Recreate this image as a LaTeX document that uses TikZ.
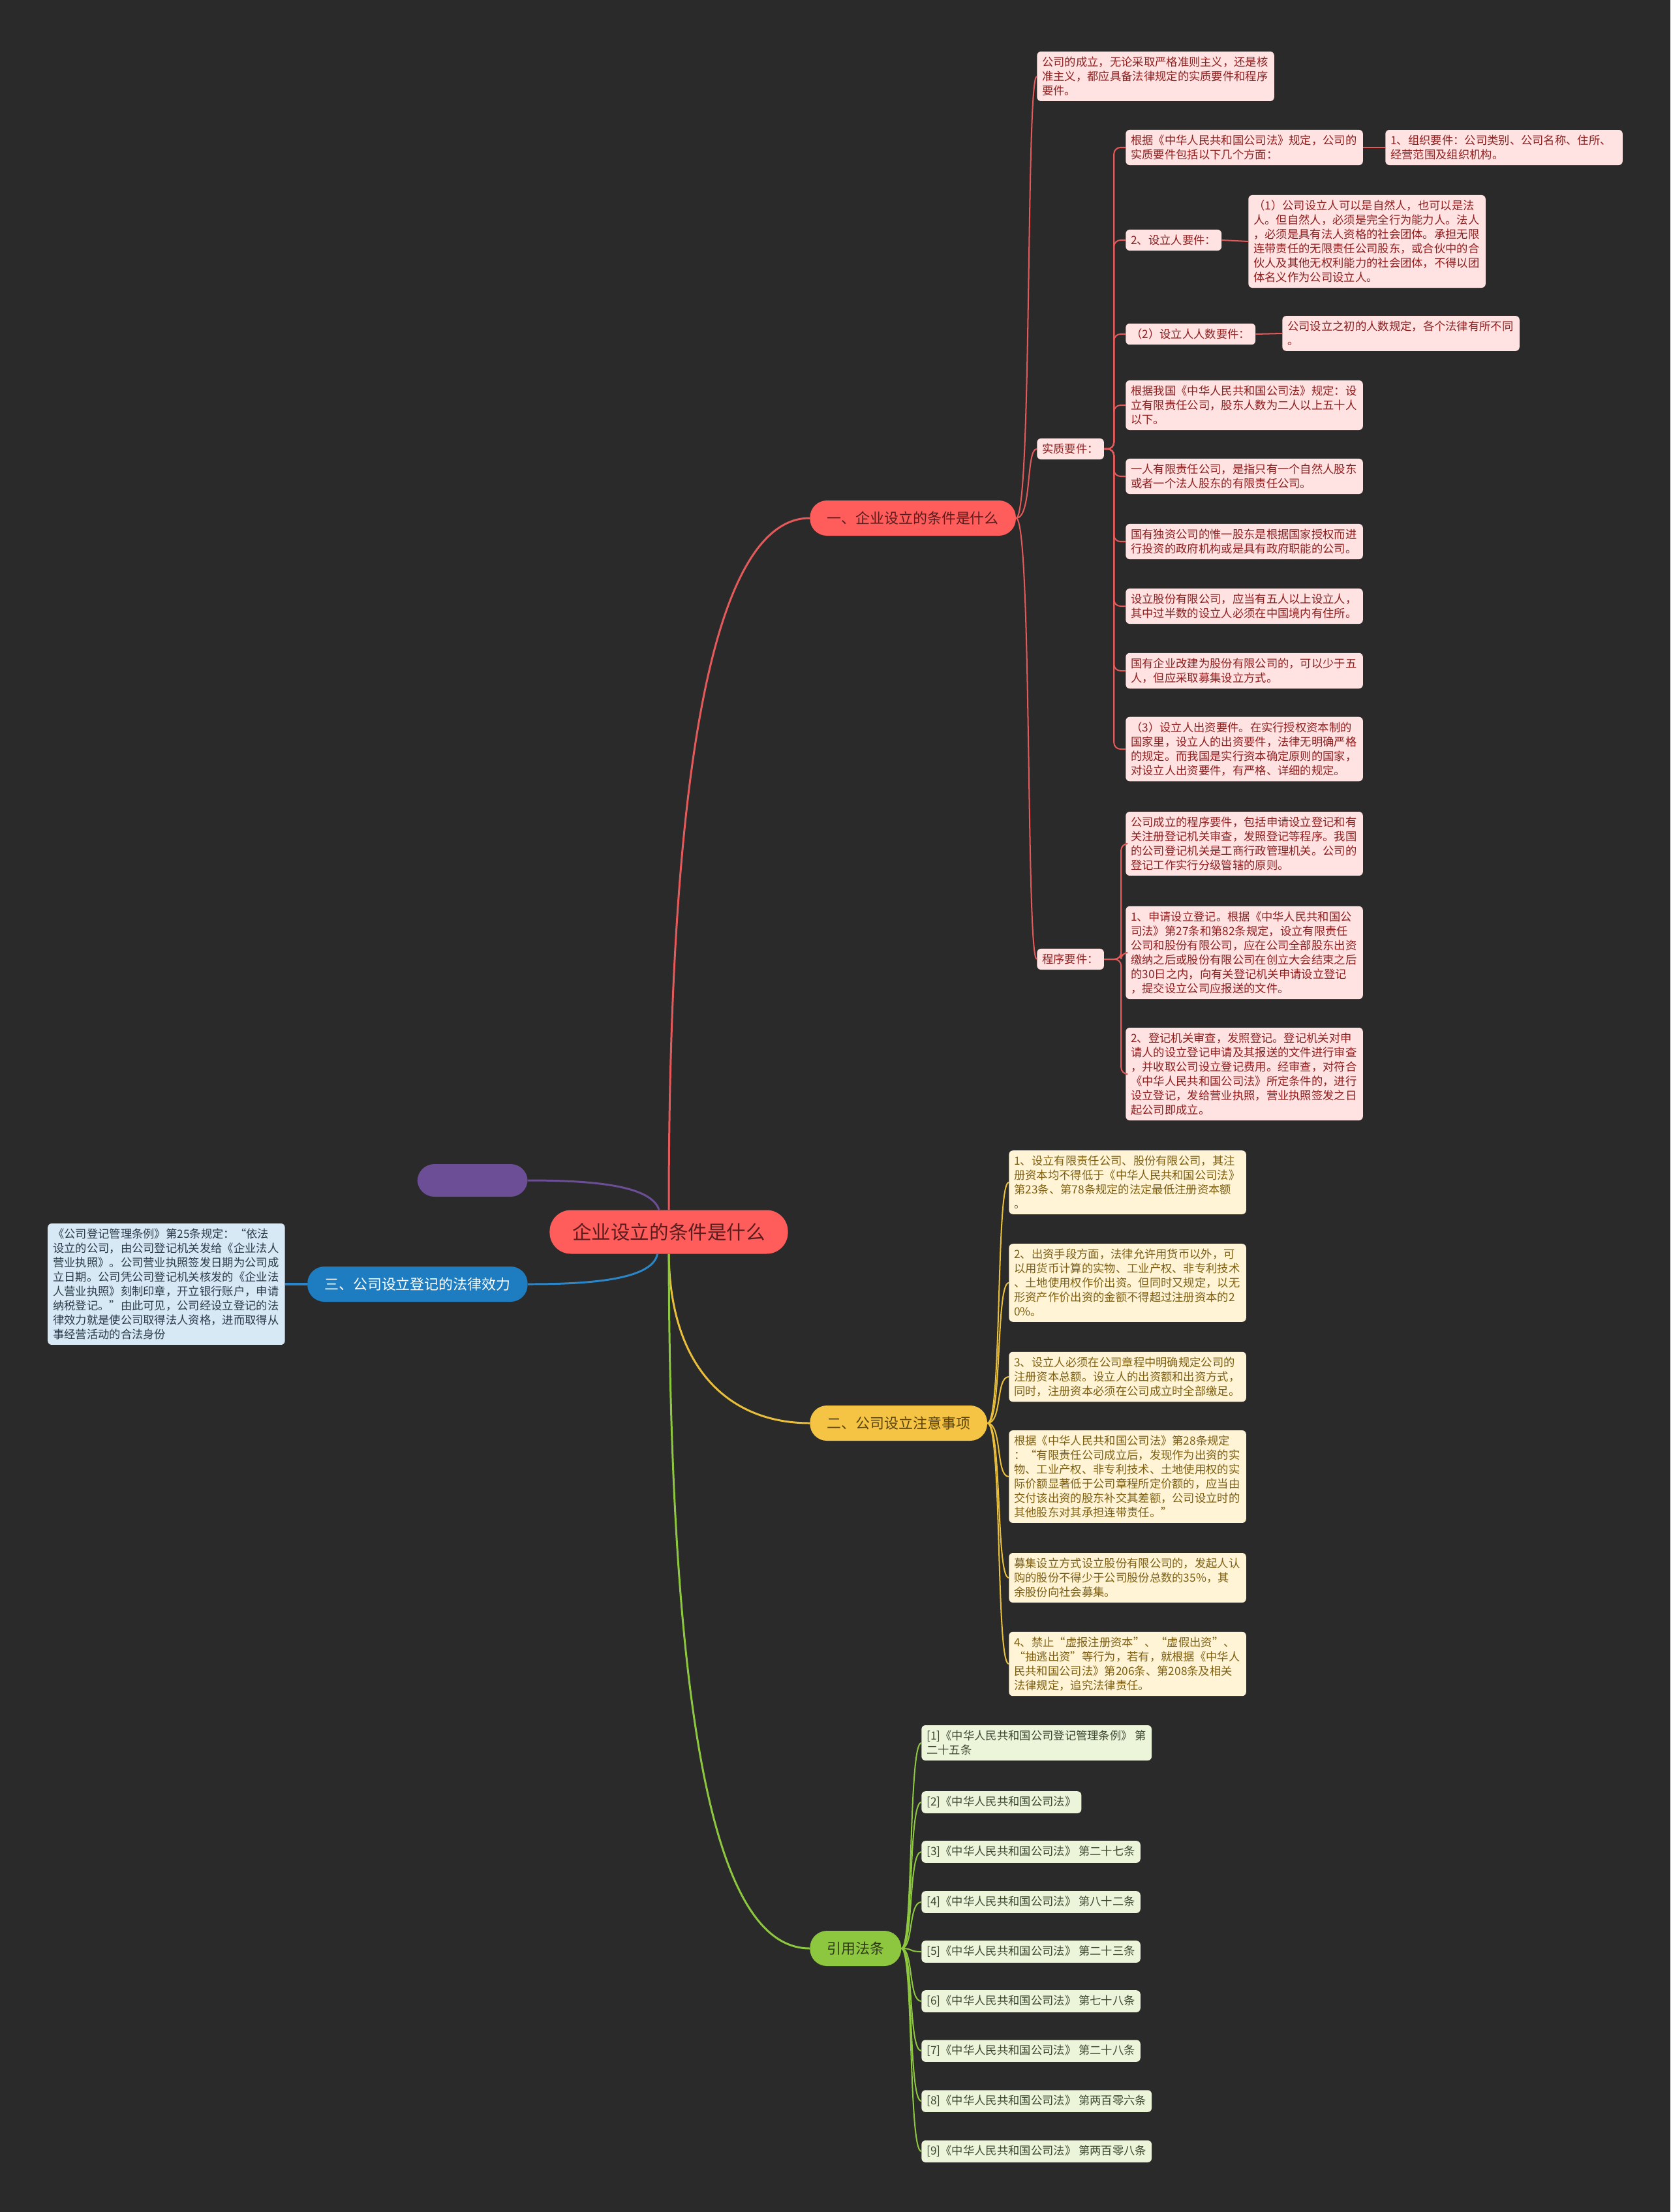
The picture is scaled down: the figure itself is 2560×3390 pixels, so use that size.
\documentclass[tikz,border=0pt]{standalone}
\usepackage{fontspec}
\setmainfont{Noto Sans CJK SC}
\definecolor{bg}{HTML}{2A2A2A}
\definecolor{rootred}{HTML}{FF5C5C}
\definecolor{rootink}{HTML}{5A1C1C}
\definecolor{redline}{HTML}{E45A5A}
\definecolor{pinkfill}{HTML}{FFE2E2}
\definecolor{pinkink}{HTML}{8E1F1F}
\definecolor{yelbranch}{HTML}{F6C445}
\definecolor{yelink}{HTML}{5A4510}
\definecolor{yelline}{HTML}{E9BE3A}
\definecolor{yelfill}{HTML}{FFF5D6}
\definecolor{yelleafink}{HTML}{7D5E12}
\definecolor{bluebranch}{HTML}{1E7CC0}
\definecolor{blueline}{HTML}{2A86C8}
\definecolor{bluefill}{HTML}{D8E9F6}
\definecolor{blueink}{HTML}{2B3A48}
\definecolor{purplebox}{HTML}{6B4E96}
\definecolor{grnbranch}{HTML}{8DC63F}
\definecolor{grnink}{HTML}{2E3A16}
\definecolor{grnfill}{HTML}{ECF5D9}
\definecolor{grnleafink}{HTML}{3A4630}
\begin{document}
\begin{tikzpicture}[x=0.02cm,y=-0.02cm,
  rootbox/.style={fill=rootred,text=rootink,rounded corners=0.65cm,
    inner xsep=0.7cm,minimum height=1.34cm,font=\fontsize{16.8}{20}\selectfont},
  topic/.style={rounded corners=0.52cm,inner xsep=0.52cm,minimum height=1.08cm,
    font=\fontsize{12.5}{15}\selectfont},
  leafbox/.style={anchor=west,rounded corners=0.12cm,inner xsep=0.16cm,
    inner ysep=0.16cm,align=left,font=\fontsize{9.85}{12.5}\selectfont},
  wideleaf/.style={leafbox,text width=6.95cm},
  pinkleaf/.style={fill=pinkfill,text=pinkink},
  yelleaf/.style={fill=yelfill,text=yelleafink},
  blueleaf/.style={fill=bluefill,text=blueink},
  grnleaf/.style={fill=grnfill,text=grnleafink},
  mainlink/.style={line width=1.7pt},
  sublink/.style={line width=1.15pt}]
  \useasboundingbox (0,0) rectangle (2560,3390);
  \fill[bg] (0,0) rectangle (2560,3390);

  % centre and first level
  \node[rootbox] (root) at (1025,1888) {企业设立的条件是什么};
  \node[topic,anchor=west,fill=rootred,text=rootink] (yi) at (1241,794)
    {一、企业设立的条件是什么};
  \node[topic,anchor=west,fill=yelbranch,text=yelink] (er) at (1241,2181)
    {二、公司设立注意事项};
  \node[topic,anchor=east,fill=bluebranch,text=white] (san) at (809,1968)
    {三、公司设立登记的法律效力};
  \node[topic,anchor=east,fill=purplebox,minimum width=3.38cm,minimum height=1cm]
    (blank) at (809,1809) {};
  \node[topic,anchor=west,fill=grnbranch,text=grnink] (yinyong) at (1241,2986)
    {引用法条};

  \draw[mainlink,redline] (root.north) .. controls (1025,1100) and (1110,794) .. (yi.west);
  \draw[mainlink,yelline] (root.south) .. controls (1027,2100) and (1120,2181) .. (er.west);
  \draw[mainlink,grnbranch] (root.south) .. controls (1027,2750) and (1120,2986) .. (yinyong.west);
  \draw[mainlink,purplebox] ([xshift=-0.3cm]root.north) .. controls (998,1815) and (900,1809) .. (blank.east);
  \draw[mainlink,blueline] ([xshift=-0.35cm]root.south) .. controls (1000,1962) and (900,1968) .. (san.east);

  % branch one
  \node[wideleaf,pinkleaf] (chengli) at (1589,117)
    {公司的成立，无论采取严格准则主义，还是核\\准主义，都应具备法律规定的实质要件和程序\\要件。};
  \node[leafbox,pinkleaf] (shizhi) at (1589,688) {实质要件：};
  \node[leafbox,pinkleaf] (chengxu) at (1589,1470) {程序要件：};
  \foreach \n/\y in {chengli/117,shizhi/688,chengxu/1470}
    \draw[sublink,redline] (yi.east) .. controls (1582,794) and (1572,\y) .. (\n.west);

  \node[wideleaf,pinkleaf] (fangmian) at (1725,226)
    {根据《中华人民共和国公司法》规定，公司的\\实质要件包括以下几个方面：};
  \node[wideleaf,pinkleaf] (zuzhi) at (2123,226)
    {1、组织要件：公司类别、公司名称、住所、\\经营范围及组织机构。};
  \node[leafbox,pinkleaf] (sheliren) at (1725,368) {2、设立人要件：};
  \node[wideleaf,pinkleaf] (sheliren1) at (1913,370)
    {（1）公司设立人可以是自然人，也可以是法\\人。但自然人，必须是完全行为能力人。法人\\，必须是具有法人资格的社会团体。承担无限\\连带责任的无限责任公司股东，或合伙中的合\\伙人及其他无权利能力的社会团体，不得以团\\体名义作为公司设立人。};
  \node[leafbox,pinkleaf] (renshu) at (1725,512) {（2）设立人人数要件：};
  \node[wideleaf,pinkleaf] (renshu1) at (1965,511)
    {公司设立之初的人数规定，各个法律有所不同\\。};
  \node[wideleaf,pinkleaf] (youxian) at (1725,621)
    {根据我国《中华人民共和国公司法》规定：设\\立有限责任公司，股东人数为二人以上五十人\\以下。};
  \node[wideleaf,pinkleaf] (yiren) at (1725,730)
    {一人有限责任公司，是指只有一个自然人股东\\或者一个法人股东的有限责任公司。};
  \node[wideleaf,pinkleaf] (duzi) at (1725,830)
    {国有独资公司的惟一股东是根据国家授权而进\\行投资的政府机构或是具有政府职能的公司。};
  \node[wideleaf,pinkleaf] (gufen) at (1725,929)
    {设立股份有限公司，应当有五人以上设立人，\\其中过半数的设立人必须在中国境内有住所。};
  \node[wideleaf,pinkleaf] (gaijian) at (1725,1028)
    {国有企业改建为股份有限公司的，可以少于五\\人，但应采取募集设立方式。};
  \node[wideleaf,pinkleaf] (chuzi) at (1725,1148)
    {（3）设立人出资要件。在实行授权资本制的\\国家里，设立人的出资要件，法律无明确严格\\的规定。而我国是实行资本确定原则的国家，\\对设立人出资要件，有严格、详细的规定。};
  \foreach \n in {fangmian,sheliren,renshu,youxian,yiren,duzi,gufen,gaijian,chuzi}
    \draw[sublink,redline,rounded corners=0.2cm] (shizhi.east) -- ++(15,0) |- (\n.west);
  \draw[sublink,redline] (fangmian.east) -- (zuzhi.west);
  \draw[sublink,redline] (sheliren.east) -- (sheliren1.west);
  \draw[sublink,redline] (renshu.east) -- (renshu1.west);

  \node[wideleaf,pinkleaf] (cxyj) at (1725,1293)
    {公司成立的程序要件，包括申请设立登记和有\\关注册登记机关审查，发照登记等程序。我国\\的公司登记机关是工商行政管理机关。公司的\\登记工作实行分级管辖的原则。};
  \node[wideleaf,pinkleaf] (shenqing) at (1725,1460)
    {1、申请设立登记。根据《中华人民共和国公\\司法》第27条和第82条规定，设立有限责任\\公司和股份有限公司，应在公司全部股东出资\\缴纳之后或股份有限公司在创立大会结束之后\\的30日之内，向有关登记机关申请设立登记\\，提交设立公司应报送的文件。};
  \node[wideleaf,pinkleaf] (shencha) at (1725,1646)
    {2、登记机关审查，发照登记。登记机关对申\\请人的设立登记申请及其报送的文件进行审查\\，并收取公司设立登记费用。经审查，对符合\\《中华人民共和国公司法》所定条件的，进行\\设立登记，发给营业执照，营业执照签发之日\\起公司即成立。};
  \foreach \n in {cxyj,shenqing,shencha}
    \draw[sublink,redline,rounded corners=0.2cm] (chengxu.east) -- ++(26,0) |- (\n.west);

  % branch two
  \node[wideleaf,yelleaf] (er1) at (1546,1812)
    {1、设立有限责任公司、股份有限公司，其注\\册资本均不得低于《中华人民共和国公司法》\\第23条、第78条规定的法定最低注册资本额\\。};
  \node[wideleaf,yelleaf] (er2) at (1546,1966)
    {2、出资手段方面，法律允许用货币以外，可\\以用货币计算的实物、工业产权、非专利技术\\、土地使用权作价出资。但同时又规定，以无\\形资产作价出资的金额不得超过注册资本的2\\0\%。};
  \node[wideleaf,yelleaf] (er3) at (1546,2110)
    {3、设立人必须在公司章程中明确规定公司的\\注册资本总额。设立人的出资额和出资方式，\\同时，注册资本必须在公司成立时全部缴足。};
  \node[wideleaf,yelleaf] (er4) at (1546,2263)
    {根据《中华人民共和国公司法》第28条规定\\：“有限责任公司成立后，发现作为出资的实\\物、工业产权、非专利技术、土地使用权的实\\际价额显著低于公司章程所定价额的，应当由\\交付该出资的股东补交其差额，公司设立时的\\其他股东对其承担连带责任。”};
  \node[wideleaf,yelleaf] (er5) at (1546,2418)
    {募集设立方式设立股份有限公司的，发起人认\\购的股份不得少于公司股份总数的35\%，其\\余股份向社会募集。};
  \node[wideleaf,yelleaf] (er6) at (1546,2550)
    {4、禁止“虚报注册资本”、“虚假出资”、\\“抽逃出资”等行为，若有，就根据《中华人\\民共和国公司法》第206条、第208条及相关\\法律规定，追究法律责任。};
  \foreach \n/\y in {er1/1812,er2/1966,er3/2110,er4/2263,er5/2418,er6/2550}
    \draw[sublink,yelline] (er.east) .. controls (1536,2181) and (1526,\y) .. (\n.west);

  % branch three
  \node[wideleaf,blueleaf,anchor=east] (tiaoli) at (437,1968)
    {《公司登记管理条例》第25条规定：“依法\\设立的公司，由公司登记机关发给《企业法人\\营业执照》。公司营业执照签发日期为公司成\\立日期。公司凭公司登记机关核发的《企业法\\人营业执照》刻制印章，开立银行账户，申请\\纳税登记。”由此可见，公司经设立登记的法\\律效力就是使公司取得法人资格，进而取得从\\事经营活动的合法身份};
  \draw[line width=2pt,blueline] (san.west) -- (tiaoli.east);

  % branch four
  \node[leafbox,grnleaf] (fa1) at (1412,2671)
    {[1]《中华人民共和国公司登记管理条例》 第\\二十五条};
  \node[leafbox,grnleaf] (fa2) at (1412,2762) {[2]《中华人民共和国公司法》};
  \node[leafbox,grnleaf] (fa3) at (1412,2838) {[3]《中华人民共和国公司法》 第二十七条};
  \node[leafbox,grnleaf] (fa4) at (1412,2915) {[4]《中华人民共和国公司法》 第八十二条};
  \node[leafbox,grnleaf] (fa5) at (1412,2991) {[5]《中华人民共和国公司法》 第二十三条};
  \node[leafbox,grnleaf] (fa6) at (1412,3067) {[6]《中华人民共和国公司法》 第七十八条};
  \node[leafbox,grnleaf] (fa7) at (1412,3143) {[7]《中华人民共和国公司法》 第二十八条};
  \node[leafbox,grnleaf] (fa8) at (1412,3220) {[8]《中华人民共和国公司法》 第两百零六条};
  \node[leafbox,grnleaf] (fa9) at (1412,3297) {[9]《中华人民共和国公司法》 第两百零八条};
  \foreach \n/\y in {fa1/2671,fa2/2762,fa3/2838,fa4/2915,fa5/2991,fa6/3067,fa7/3143,fa8/3220,fa9/3297}
    \draw[sublink,grnbranch] (yinyong.east) .. controls (1400,2986) and (1392,\y) .. (\n.west);
\end{tikzpicture}
\end{document}
